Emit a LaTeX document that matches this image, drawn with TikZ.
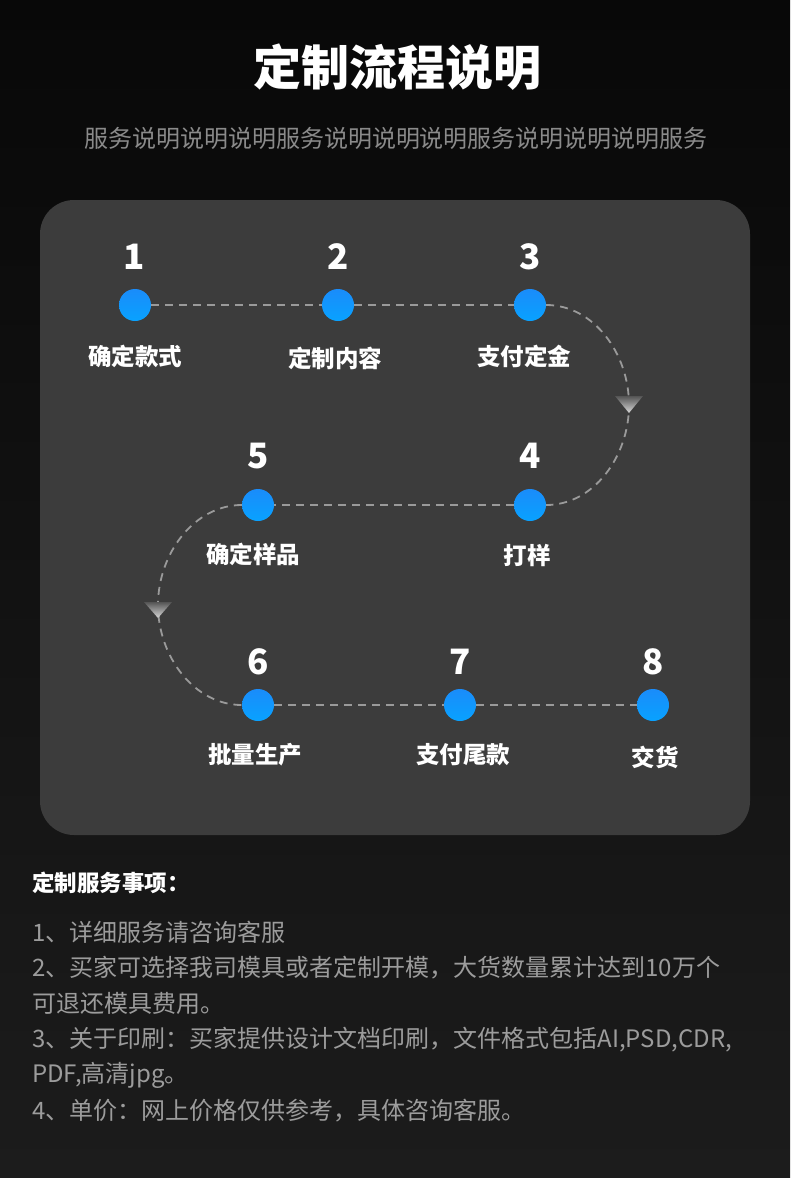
\documentclass[tikz,border=0pt]{standalone}
\usepackage{fontspec}
\setmainfont{Noto Sans CJK SC}
\begin{document}
\begin{tikzpicture}[x=1pt,y=-1pt,
  dot/.style={circle,minimum size=32pt,inner sep=0pt,top color=dotA,bottom color=dotB},
  num/.style={font=\bfseries\fontsize{35}{35}\selectfont,text=white,inner sep=0pt},
  lab/.style={font=\bfseries\fontsize{23.5}{23.5}\selectfont,text=white,inner sep=0pt},
  flow/.style={draw=dashc,line width=1.8pt,dash pattern=on 8pt off 6pt},
  tri/.style={top color=triA,bottom color=triB},
  note/.style={font=\fontsize{24}{24}\selectfont,text=notec,anchor=west,inner sep=0pt}]
\definecolor{bgA}{HTML}{080808}
\definecolor{bgB}{HTML}{1C1C1C}
\definecolor{card}{HTML}{3C3C3C}
\definecolor{dotA}{HTML}{1A8CFA}
\definecolor{dotB}{HTML}{08A2FF}
\definecolor{dashc}{HTML}{9A9A9A}
\definecolor{triA}{HTML}{555555}
\definecolor{triB}{HTML}{D8D8D8}
\definecolor{subc}{HTML}{8A8A8A}
\definecolor{notec}{HTML}{9C9C9C}
\useasboundingbox (0,0) rectangle (790,1178);
\shade[top color=bgA,bottom color=bgB] (0,0) rectangle (790,1178);
% title
\node[font=\bfseries\fontsize{48}{48}\selectfont,text=white,inner sep=0pt] (title) at (397,67) {定制流程说明};
\node[font=\fontsize{24}{24}\selectfont,text=subc,inner sep=0pt] (sub) at (396,138) {服务说明说明说明服务说明说明说明服务说明说明说明服务};
% card
\fill[card,rounded corners=34pt] (40,200) rectangle (750,835);
% dots
\node[dot] (d1) at (135,305) {};
\node[dot] (d2) at (338,305) {};
\node[dot] (d3) at (530,305) {};
\node[dot] (d4) at (530,505) {};
\node[dot] (d5) at (258,505) {};
\node[dot] (d6) at (258,705) {};
\node[dot] (d7) at (460,705) {};
\node[dot] (d8) at (653,705) {};
\coordinate (tr) at (629,405);
\coordinate (tl) at (158,605);
% connectors
\draw[flow] (d1) -- (d2);
\draw[flow] (d2) -- (d3);
\draw[flow] (d3.east) .. controls +(47,0) and +(0,-52) .. (tr) .. controls +(0,52) and +(47,0) .. (d4.east);
\draw[flow] (d4) -- (d5);
\draw[flow] (d5.west) .. controls +(-47,0) and +(0,-52) .. (tl) .. controls +(0,52) and +(-47,0) .. (d6.west);
\draw[flow] (d6) -- (d7);
\draw[flow] (d7) -- (d8);
% arrow triangles
\shade[tri] (615,396) -- (643,396) -- (629,413) -- cycle;
\shade[tri] (144,602) -- (172,602) -- (158,618) -- cycle;
% numbers
\node[num] (n1) at (134,257) {1};
\node[num] (n2) at (338,257) {2};
\node[num] (n3) at (530,257) {3};
\node[num] (n4) at (530,456) {4};
\node[num] (n5) at (258,456) {5};
\node[num] (n6) at (258,662) {6};
\node[num] (n7) at (460,662) {7};
\node[num] (n8) at (653,662) {8};
% labels
\node[lab] (l1) at (135,356) {确定款式};
\node[lab] (l2) at (335,358) {定制内容};
\node[lab] (l3) at (524,356) {支付定金};
\node[lab] (l4) at (527,555) {打样};
\node[lab] (l5) at (253,554) {确定样品};
\node[lab] (l6) at (255,755) {批量生产};
\node[lab] (l7) at (463,755) {支付尾款};
\node[lab] (l8) at (655,757) {交货};
% notes
\node[font=\bfseries\fontsize{22.5}{22.5}\selectfont,text=white,anchor=west,inner sep=0pt] (nh) at (32,883) {定制服务事项：};
\node[note] (t1) at (32,932) {1、详细服务请咨询客服};
\node[note] (t2) at (32,968) {2、买家可选择我司模具或者定制开模，大货数量累计达到10万个};
\node[note] (t3) at (32,1003) {可退还模具费用。};
\node[note] (t4) at (32,1040) {3、关于印刷：买家提供设计文档印刷，文件格式包括AI,PSD,CDR,};
\node[note] (t5) at (32,1075) {PDF,高清jpg。};
\node[note] (t6) at (32,1111) {4、单价：网上价格仅供参考，具体咨询客服。};
\end{tikzpicture}
\end{document}
